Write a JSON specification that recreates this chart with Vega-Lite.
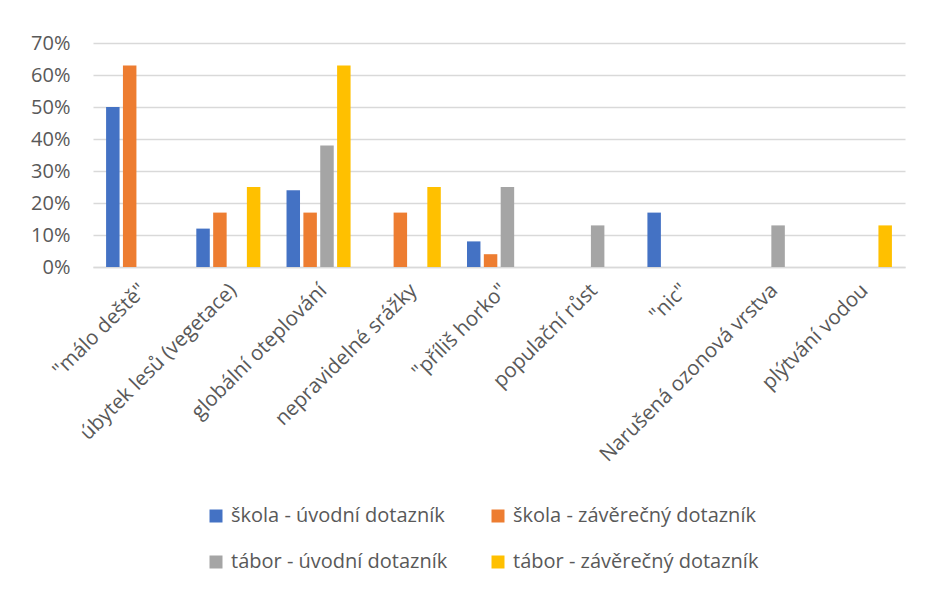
{
  "$schema": "https://vega.github.io/schema/vega-lite/v6.json",
  "width": 812,
  "height": 224,
  "autosize": {"type": "none"},
  "padding": {"left": 93, "top": 43, "right": 42, "bottom": 323},
  "background": "white",
  "config": {
    "view": {"stroke": null},
    "font": "Open Sans"
  },
  "data": {
    "values": [
      {"kategorie": "\"málo deště\"", "skupina": "škola - úvodní dotazník", "podil": 0.50},
      {"kategorie": "\"málo deště\"", "skupina": "škola - závěrečný dotazník", "podil": 0.63},
      {"kategorie": "\"málo deště\"", "skupina": "tábor - úvodní dotazník", "podil": 0},
      {"kategorie": "\"málo deště\"", "skupina": "tábor - závěrečný dotazník", "podil": 0},
      {"kategorie": "úbytek lesů (vegetace)", "skupina": "škola - úvodní dotazník", "podil": 0.12},
      {"kategorie": "úbytek lesů (vegetace)", "skupina": "škola - závěrečný dotazník", "podil": 0.17},
      {"kategorie": "úbytek lesů (vegetace)", "skupina": "tábor - úvodní dotazník", "podil": 0},
      {"kategorie": "úbytek lesů (vegetace)", "skupina": "tábor - závěrečný dotazník", "podil": 0.25},
      {"kategorie": "globální oteplování", "skupina": "škola - úvodní dotazník", "podil": 0.24},
      {"kategorie": "globální oteplování", "skupina": "škola - závěrečný dotazník", "podil": 0.17},
      {"kategorie": "globální oteplování", "skupina": "tábor - úvodní dotazník", "podil": 0.38},
      {"kategorie": "globální oteplování", "skupina": "tábor - závěrečný dotazník", "podil": 0.63},
      {"kategorie": "nepravidelné srážky", "skupina": "škola - úvodní dotazník", "podil": 0},
      {"kategorie": "nepravidelné srážky", "skupina": "škola - závěrečný dotazník", "podil": 0.17},
      {"kategorie": "nepravidelné srážky", "skupina": "tábor - úvodní dotazník", "podil": 0},
      {"kategorie": "nepravidelné srážky", "skupina": "tábor - závěrečný dotazník", "podil": 0.25},
      {"kategorie": "\"příliš horko\"", "skupina": "škola - úvodní dotazník", "podil": 0.08},
      {"kategorie": "\"příliš horko\"", "skupina": "škola - závěrečný dotazník", "podil": 0.04},
      {"kategorie": "\"příliš horko\"", "skupina": "tábor - úvodní dotazník", "podil": 0.25},
      {"kategorie": "\"příliš horko\"", "skupina": "tábor - závěrečný dotazník", "podil": 0},
      {"kategorie": "populační růst", "skupina": "škola - úvodní dotazník", "podil": 0},
      {"kategorie": "populační růst", "skupina": "škola - závěrečný dotazník", "podil": 0},
      {"kategorie": "populační růst", "skupina": "tábor - úvodní dotazník", "podil": 0.13},
      {"kategorie": "populační růst", "skupina": "tábor - závěrečný dotazník", "podil": 0},
      {"kategorie": "\"nic\"", "skupina": "škola - úvodní dotazník", "podil": 0.17},
      {"kategorie": "\"nic\"", "skupina": "škola - závěrečný dotazník", "podil": 0},
      {"kategorie": "\"nic\"", "skupina": "tábor - úvodní dotazník", "podil": 0},
      {"kategorie": "\"nic\"", "skupina": "tábor - závěrečný dotazník", "podil": 0},
      {"kategorie": "Narušená ozonová vrstva", "skupina": "škola - úvodní dotazník", "podil": 0},
      {"kategorie": "Narušená ozonová vrstva", "skupina": "škola - závěrečný dotazník", "podil": 0},
      {"kategorie": "Narušená ozonová vrstva", "skupina": "tábor - úvodní dotazník", "podil": 0.13},
      {"kategorie": "Narušená ozonová vrstva", "skupina": "tábor - závěrečný dotazník", "podil": 0},
      {"kategorie": "plýtvání vodou", "skupina": "škola - úvodní dotazník", "podil": 0},
      {"kategorie": "plýtvání vodou", "skupina": "škola - závěrečný dotazník", "podil": 0},
      {"kategorie": "plýtvání vodou", "skupina": "tábor - úvodní dotazník", "podil": 0},
      {"kategorie": "plýtvání vodou", "skupina": "tábor - závěrečný dotazník", "podil": 0.13}
    ]
  },
  "mark": {"type": "bar", "strokeWidth": 0},
  "encoding": {
    "x": {
      "field": "kategorie",
      "type": "nominal",
      "sort": null,
      "scale": {"paddingInner": 0.29, "paddingOuter": 0.145},
      "axis": {
        "title": null,
        "labelAngle": -45,
        "labelAlign": "right",
        "labelBaseline": "middle",
        "labelFontSize": 20.5,
        "labelColor": "#595959",
        "labelLimit": 400,
        "labelPadding": 20,
        "labelOffset": 5,
        "ticks": false,
        "domain": true,
        "domainColor": "#D9D9D9",
        "domainWidth": 1.5
      }
    },
    "xOffset": {
      "field": "skupina",
      "type": "nominal",
      "sort": null,
      "scale": {"paddingInner": 0.2}
    },
    "y": {
      "field": "podil",
      "type": "quantitative",
      "scale": {"domain": [0, 0.7], "nice": false},
      "axis": {
        "title": null,
        "format": ".0%",
        "values": [0, 0.1, 0.2, 0.3, 0.4, 0.5, 0.6, 0.7],
        "labelFontSize": 20,
        "labelColor": "#595959",
        "labelPadding": 23,
        "ticks": false,
        "domain": false,
        "gridColor": "#D9D9D9",
        "gridWidth": 1.5
      }
    },
    "color": {
      "field": "skupina",
      "type": "nominal",
      "sort": null,
      "scale": {
        "domain": ["škola - úvodní dotazník", "škola - závěrečný dotazník", "tábor - úvodní dotazník", "tábor - závěrečný dotazník"],
        "range": ["#4472C4", "#ED7D31", "#A5A5A5", "#FFC000"]
      },
      "legend": {
        "title": null,
        "orient": "none",
        "legendX": 113,
        "legendY": 463,
        "direction": "horizontal",
        "columns": 2,
        "columnPadding": 40,
        "rowPadding": 26,
        "symbolType": "square",
        "symbolSize": 169,
        "symbolStrokeWidth": 0,
        "labelFontSize": 20,
        "labelColor": "#595959",
        "labelLimit": 400,
        "labelOffset": 5
      }
    }
  }
}
